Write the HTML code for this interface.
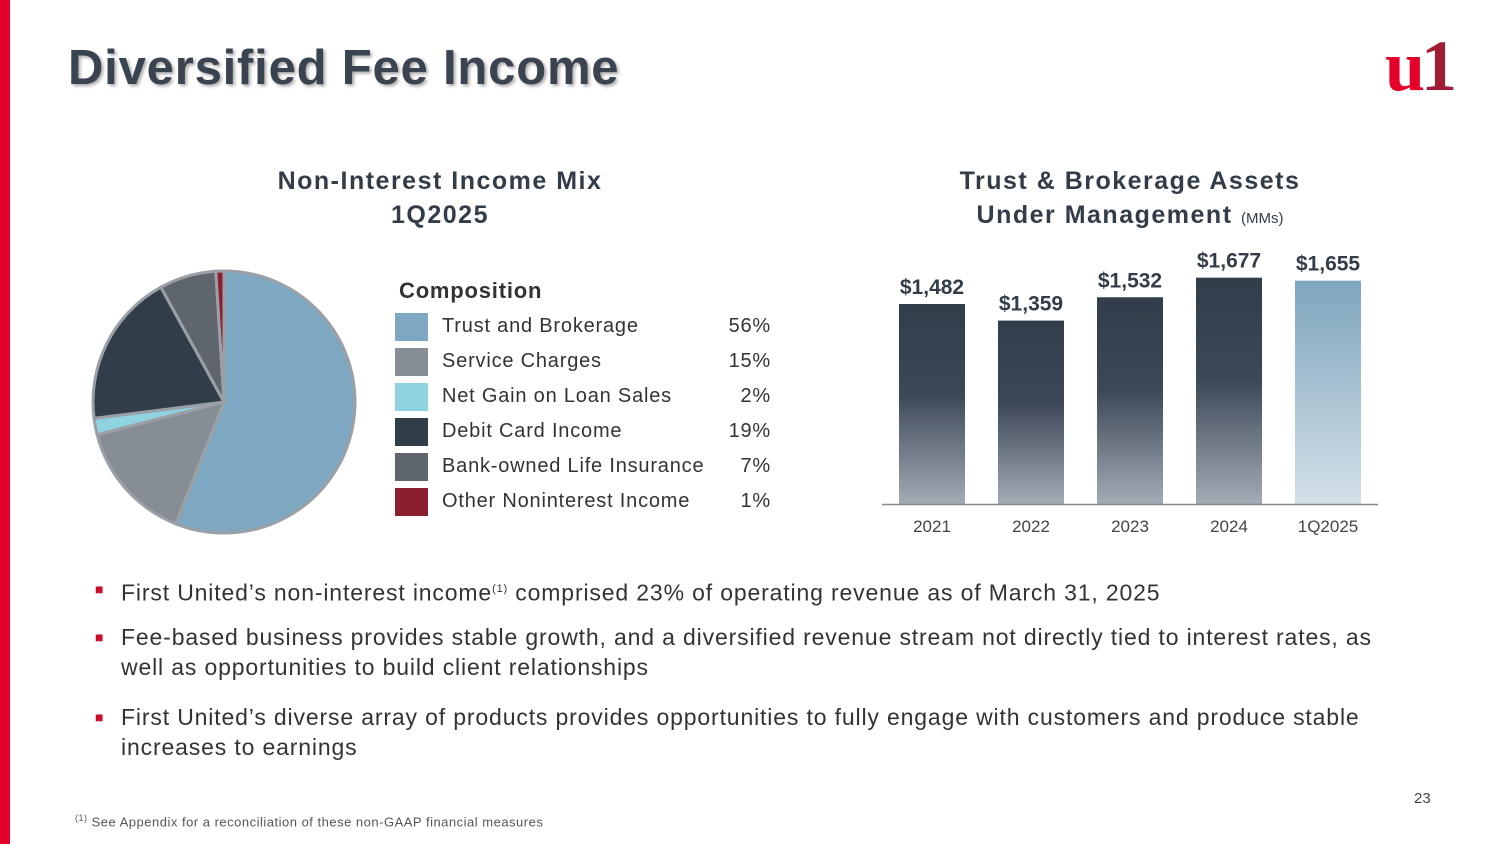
<!DOCTYPE html>
<html><head><meta charset="utf-8"><style>
body{margin:0;width:1500px;height:844px;background:#fff;position:relative;overflow:hidden;font-family:"Liberation Sans",Arial,sans-serif;color:#333}
.abs{position:absolute}
.title{left:68px;top:40px;font-size:49px;font-weight:bold;color:#3a4350;text-shadow:2px 2px 3px #aaa;letter-spacing:0.8px}
.h{font-size:25px;font-weight:bold;color:#333d48;text-align:center;letter-spacing:1.5px}
.leg{font-size:20px;color:#333;letter-spacing:0.8px}
.sw{position:absolute;width:33px;height:28px}
.bul{font-size:23px;color:#333;left:121px;line-height:30px;width:1290px;letter-spacing:0.85px}
.bm{position:absolute;left:-26px;top:0;font-size:14px;color:#c8102e}
</style></head><body>
<div class="abs" style="left:0;top:0;width:10px;height:844px;background:#e4002b"></div>
<div class="abs title">Diversified Fee Income</div>
<div class="abs" style="left:1385px;top:30px;font-family:'Liberation Serif',serif;font-weight:bold;font-size:72px;line-height:72px;letter-spacing:-4px"><span style="color:#e4002b">u</span><span style="color:#a01d34">1</span></div>

<div class="abs h" style="left:190px;top:164px;width:500px;line-height:34px">Non-Interest Income Mix<br>1Q2025</div>
<div class="abs h" style="left:880px;top:164px;width:500px;line-height:34px">Trust &amp; Brokerage Assets<br>Under Management <span style="font-size:15px;font-weight:normal;letter-spacing:0">(MMs)</span></div>

<svg class="abs" style="left:0;top:0" width="1500" height="844" id="charts"></svg>

<div class="abs leg" style="left:399px;top:278px;font-weight:bold;font-size:22px">Composition</div>
<div id="legend"></div>

<div class="abs bul" style="top:574px"><span class="bm">■</span>First United’s non-interest income<sup style="font-size:11px">(1)</sup> comprised 23% of operating revenue as of March 31, 2025</div>
<div class="abs bul" style="top:622px"><span class="bm">■</span>Fee-based business provides stable growth, and a diversified revenue stream not directly tied to interest rates, as well as opportunities to build client relationships</div>
<div class="abs bul" style="top:702px"><span class="bm">■</span>First United’s diverse array of products provides opportunities to fully engage with customers and produce stable increases to earnings</div>
<div class="abs" style="left:1414px;top:790px;font-size:15px;color:#444">23</div>
<div class="abs" style="left:75px;top:813px;font-size:13px;color:#555;letter-spacing:0.5px"><sup style="font-size:9px">(1)</sup> See Appendix for a reconciliation of these non-GAAP financial measures</div>

<script>
const pieLabels=["Trust and Brokerage","Service Charges","Net Gain on Loan Sales","Debit Card Income","Bank-owned Life Insurance","Other Noninterest Income"];
const pieValues=[56,15,2,19,7,1];
const pieColors=["#7ea8c2","#878d95","#8fd3e0","#323d4a","#5f656c","#8b1e2f"];
const barCats=["2021","2022","2023","2024","1Q2025"];
const barValues=[1482,1359,1532,1677,1655];
const barLabels=["$1,482","$1,359","$1,532","$1,677","$1,655"];
const NS="http://www.w3.org/2000/svg";
const svg=document.getElementById('charts');
function mk(t,a){const e=document.createElementNS(NS,t);for(const k in a)e.setAttribute(k,a[k]);svg.appendChild(e);return e;}
svg.innerHTML='<defs><linearGradient id="gd" x1="0" y1="0" x2="0" y2="1"><stop offset="0" stop-color="#323d4a"/><stop offset="0.45" stop-color="#3d4857"/><stop offset="1" stop-color="#a3abb5"/></linearGradient><linearGradient id="gl" x1="0" y1="0" x2="0" y2="1"><stop offset="0" stop-color="#7ea6bd"/><stop offset="1" stop-color="#d3dfe7"/></linearGradient></defs>';
const cx=224,cy=402,r=131;
const tot=pieValues.reduce((a,b)=>a+b,0);
let ang=0;
pieValues.forEach((v,i)=>{
  const a0=ang/tot*2*Math.PI, a1=(ang+v)/tot*2*Math.PI; ang+=v;
  const x0=cx+r*Math.sin(a0),y0=cy-r*Math.cos(a0),x1=cx+r*Math.sin(a1),y1=cy-r*Math.cos(a1);
  const p=mk('path',{d:`M${cx},${cy}L${x0},${y0}A${r},${r} 0 ${a1-a0>Math.PI?1:0} 1 ${x1},${y1}Z`,fill:pieColors[i],stroke:'#9aa0a6','stroke-width':3});
  
  
});
const lg=document.getElementById('legend');
pieLabels.forEach((l,i)=>{
  const y=313+i*35;
  const s=document.createElement('div');s.className='sw';s.style.left='395px';s.style.top=y+'px';s.style.background=pieColors[i];
  
  
  lg.appendChild(s);
  const t=document.createElement('div');t.className='abs leg';t.style.left='442px';t.style.top=(y+2)+'px';t.textContent=l;
  
  
  lg.appendChild(t);
  const p=document.createElement('div');p.className='abs leg';p.style.left='690px';p.style.width='81px';p.style.textAlign='right';p.style.top=(y+2)+'px';p.textContent=pieValues[i]+'%';
  
  
  lg.appendChild(p);
});
const base=504,k=200/1482,x0=932,step=99,bw=66;
const yS=v=>base-v*k;
barValues.forEach((v,i)=>{
  const cxb=x0+i*step;
  const b=mk('rect',{x:cxb-bw/2,y:yS(v),width:bw,height:base-yS(v),fill:i==barValues.length-1?'url(#gl)':'url(#gd)'});
  
  
  const t=mk('text',{x:cxb,y:yS(v)-10,'text-anchor':'middle','font-size':21,'font-weight':'bold',fill:'#333d48','font-family':'Liberation Sans'});
  t.textContent=barLabels[i];
  
  
  const c=mk('text',{x:cxb,y:532,'text-anchor':'middle','font-size':17,fill:'#444','font-family':'Liberation Sans'});
  c.textContent=barCats[i];
  
  
});
const ax=mk('line',{x1:882,x2:1378,y1:base+0.5,y2:base+0.5,stroke:'#888','stroke-width':1.5});


</script>
</body></html>
